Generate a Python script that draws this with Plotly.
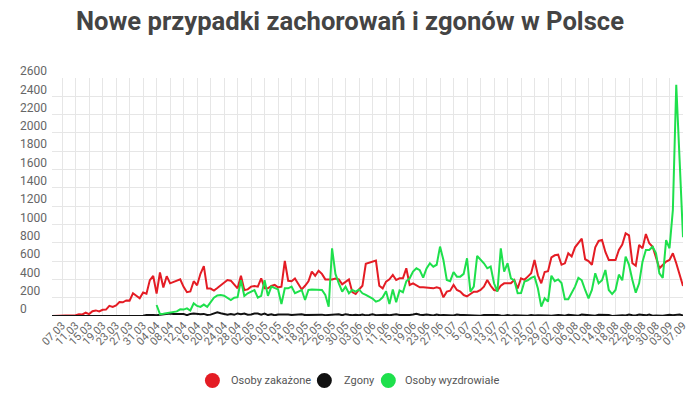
import pandas as pd
import plotly.graph_objects as go

# ---- data -------------------------------------------------------------
dates = pd.date_range("2020-03-04", "2020-09-07", freq="D")

tick_labels = ["07.03", "11.03", "15.03", "19.03", "23.03", "27.03", "31.03",
               "04.04", "08.04", "12.04", "16.04", "20.04", "24.04", "28.04",
               "02.05", "06.05", "10.05", "14.05", "18.05", "22.05", "26.05", "30.05",
               "03.06", "07.06", "11.06", "15.06", "19.06", "23.06", "27.06",
               "1.07", "5.07", "9.07", "13.07", "17.07", "21.07", "25.07", "29.07",
               "02.08", "06.08", "10.08", "14.08", "18.08", "22.08", "26.08", "30.08",
               "03.09", "07.09"]

y_ticks = [0, 200, 400, 600, 800, 1000, 1200, 1400, 1600, 1800, 2000, 2200, 2400, 2600]

infected = [
    # March 4-31
    1, 0, 4, 1, 5, 6, 5, 9, 20, 17, 36, 21, 52, 61, 49, 68, 70, 111, 98, 115,
    152, 150, 170, 168, 249, 224, 193, 256,
    # April
    243, 392, 437, 244, 475, 311, 435, 357, 370, 380, 401, 318, 260, 268, 380,
    336, 461, 545, 300, 300, 277, 305, 336, 370, 393, 386, 339, 302, 440, 284,
    # May
    291, 321, 328, 321, 412, 303, 303, 328, 339, 313, 321, 601, 385, 380, 410,
    350, 290, 330, 380, 485, 440, 495, 460, 400, 400, 400, 410, 400, 345, 370, 400,
    # June
    260, 240, 290, 330, 570, 583, 590, 605, 330, 302, 375, 401, 448, 393, 412,
    412, 521, 339, 357, 330, 313, 313, 310, 310, 302, 313, 302, 204, 266, 277,
    # July
    339, 284, 266, 229, 215, 240, 266, 266, 284, 321, 393, 330, 284, 277, 330,
    357, 357, 357, 393, 300, 412, 395, 430, 466, 612, 445, 357, 480, 490, 640, 663,
    # August
    670, 560, 575, 685, 650, 750, 800, 845, 620, 600, 560, 750, 820, 830, 700,
    612, 612, 612, 721, 780, 903, 880, 576, 550, 776, 739, 896, 794, 757, 648, 521,
    # September 1-7
    558, 594, 612, 685, 576, 445, 328,
]

deaths = [
    # March 4-31
    0, 0, 0, 0, 0, 0, 0, 0, 1, 1, 1, 0, 0, 0, 2, 2, 1, 0, 2, 4,
    1, 4, 2, 5, 2, 3, 1, 2,
    # April
    10, 14, 10, 9, 15, 14, 24, 26, 21, 23, 27, 23, 9, 23, 26,
    20, 20, 23, 11, 15, 29, 40, 30, 25, 15, 21, 13, 28, 20, 26,
    # May
    13, 17, 28, 27, 15, 27, 10, 18, 8, 16, 17, 22, 17, 11, 14, 13,
    18, 10, 12, 15, 17, 13, 15, 9, 10, 15, 12, 19, 8, 20, 13,
    # June
    7, 13, 8, 16, 7, 11, 19, 9, 13, 12, 13, 8, 10, 19, 12,
    10, 11, 12, 16, 23, 14, 10, 17, 11, 6, 15, 8, 11, 7, 10,
    # July
    5, 17, 10, 12, 9, 7, 3, 8, 4, 10, 11, 5, 9, 11, 5, 3,
    11, 2, 9, 7, 8, 4, 3, 11, 5, 8, 9, 13, 6, 2, 8,
    # August
    12, 9, 3, 14, 12, 6, 4, 15, 12, 12, 3, 2, 14, 13, 13, 12,
    1, 5, 8, 8, 5, 16, 8, 6, 16, 14, 7, 17, 4, 6, 3,
    # September 1-7
    3, 9, 14, 9, 12, 17, 4,
]

recovered = [None] * 31 + [
    # April 4-30
    120, 20, 25, 30, 35, 40, 50, 73, 70, 84, 60, 138, 110, 100, 125, 100,
    150, 200, 225, 230, 222, 200, 175, 200, 205, 390, 218,
    # May
    248, 266, 284, 200, 220, 390, 220, 321, 302, 290, 131, 302, 302, 321, 250,
    266, 284, 175, 284, 290, 290, 290, 284, 230, 102, 739, 460, 357, 266, 321, 248,
    # June
    284, 266, 290, 248, 230, 210, 190, 157, 170, 204, 270, 130, 290, 150, 280,
    260, 380, 412, 485, 521, 500, 420, 520, 576, 539, 560, 758, 612, 393, 380,
    # July
    480, 430, 430, 460, 630, 266, 321, 656, 620, 576, 521, 540, 357, 266, 739,
    485, 576, 412, 390, 248, 250, 375, 390, 416, 430, 300, 102, 193, 157, 440, 381,
    # August
    400, 360, 182, 182, 248, 321, 416, 390, 284, 193, 284, 467, 357, 390, 503,
    284, 240, 284, 452, 390, 648, 558, 394, 255, 357, 594, 721, 721, 757, 685, 466,
    # September 1-7
    416, 830, 740, 1160, 2525, 1700, 860,
]

series_names = ["Osoby zakażone", "Zgony", "Osoby wyzdrowiałe"]
series_colors = ["#e41c24", "#111111", "#1ee04c"]

# ---- figure -----------------------------------------------------------
W, H = 700, 396
ml, mr, mt, mb = 16, 16.7, 78, 80
plot_left = 52
PW, PH = W - ml - mr, H - mt - mb
dom0 = (plot_left - ml) / PW


def px_x(px):
    return (px - ml) / PW


def px_y(py):
    return (H - mb - py) / PH


fig = go.Figure()
for vals, name, col in zip([infected, deaths, recovered], series_names, series_colors):
    fig.add_trace(go.Scatter(x=dates, y=vals, mode="lines", name=name,
                             line=dict(color=col, width=2), showlegend=False,
                             hoverinfo="x+y"))

# legend drawn as circle markers + text (layout positions in pixels)
legend_circle_px = [212.5, 324.5, 388.5]
legend_text_px = [229, 342, 403.5]
legend_y_px = 380.5
shapes, annotations = [], []
for name, col, cx, tx in zip(series_names, series_colors, legend_circle_px, legend_text_px):
    shapes.append(dict(type="circle", xref="paper", yref="paper",
                       xsizemode="pixel", ysizemode="pixel",
                       xanchor=px_x(cx), yanchor=px_y(legend_y_px),
                       x0=-7.5, x1=7.5, y0=-7.5, y1=7.5,
                       fillcolor=col, line=dict(width=0)))
    annotations.append(dict(text=name, xref="paper", yref="paper",
                            x=px_x(tx), y=px_y(legend_y_px),
                            xanchor="left", yanchor="middle", showarrow=False,
                            font=dict(family="Roboto", size=11, color="#555555")))

fig.update_layout(
    template="none",
    width=W, height=H,
    margin=dict(l=ml, r=mr, t=mt, b=mb, pad=0, autoexpand=False),
    paper_bgcolor="white", plot_bgcolor="white",
    font=dict(family="Roboto", color="#666666"),
    title=dict(text="<b>Nowe przypadki zachorowań i zgonów w Polsce</b>",
               x=0.5, xref="container", xanchor="center",
               y=1 - 21 / H, yref="container", yanchor="middle",
               font=dict(family="Roboto", size=25.6, color="#444444")),
    xaxis=dict(domain=[dom0, 1], range=[dates[0], dates[-1]],
               tickvals=list(dates[3::4]), ticktext=tick_labels,
               tickangle=-45, tickfont=dict(size=11, color="#666666"),
               showgrid=True, gridcolor="#e6e6e6", gridwidth=1,
               zeroline=False, showline=False, ticks="", automargin=False),
    yaxis=dict(range=[0, 2600], tickvals=y_ticks,
               anchor="free", position=0,
               ticklabelposition="inside", ticklabelshift=-7,
               ticklabeloverflow="allow",
               tickfont=dict(size=12, color="#666666"),
               showgrid=True, gridcolor="#e6e6e6", gridwidth=1,
               zeroline=False, showline=False, ticks="", automargin=False),
    shapes=shapes,
    annotations=annotations,
    showlegend=False,
)

fig.write_html("out.html", config={"displayModeBar": False},
               post_script="document.body.style.margin='0';")
